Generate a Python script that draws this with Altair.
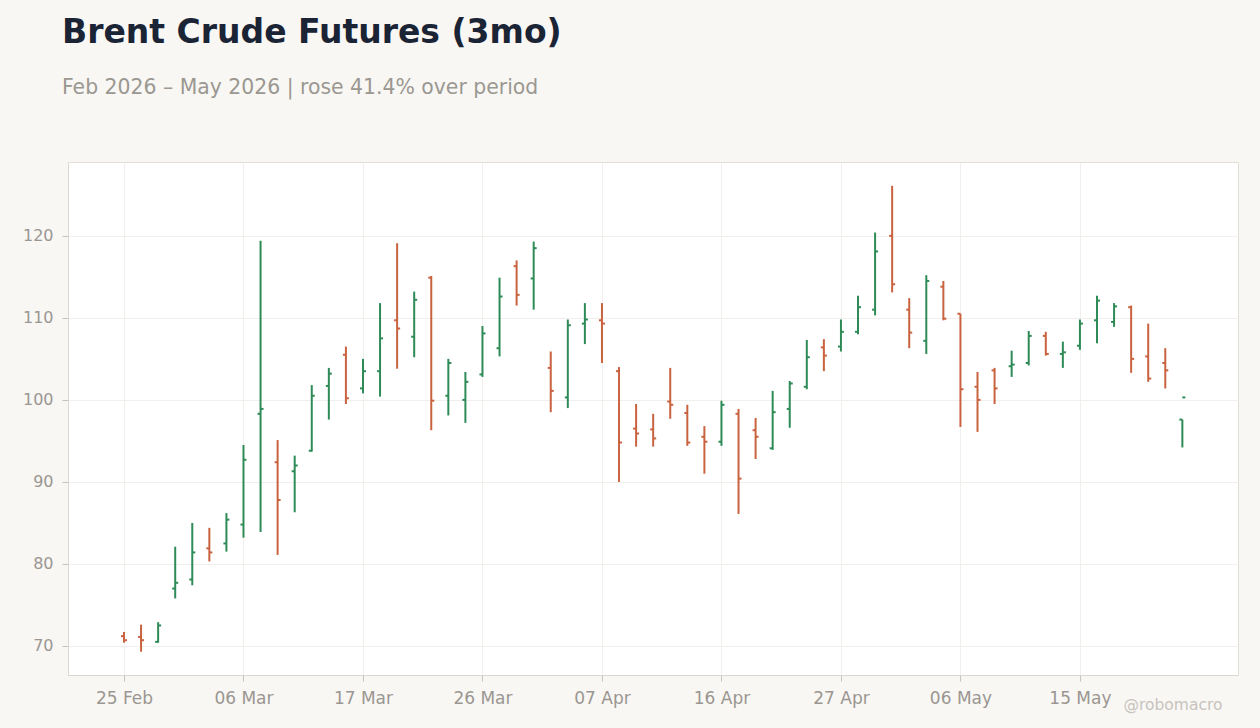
import altair as alt
import pandas as pd

# ---- data ----
dates = [
    "2026-02-25", "2026-02-26", "2026-02-27", "2026-03-02", "2026-03-03", "2026-03-04", "2026-03-05",
    "2026-03-06", "2026-03-09", "2026-03-10", "2026-03-11", "2026-03-12", "2026-03-13", "2026-03-16",
    "2026-03-17", "2026-03-18", "2026-03-19", "2026-03-20", "2026-03-23", "2026-03-24", "2026-03-25",
    "2026-03-26", "2026-03-27", "2026-03-30", "2026-03-31", "2026-04-01", "2026-04-02", "2026-04-06",
    "2026-04-07", "2026-04-08", "2026-04-09", "2026-04-10", "2026-04-13", "2026-04-14", "2026-04-15",
    "2026-04-16", "2026-04-17", "2026-04-20", "2026-04-21", "2026-04-22", "2026-04-23", "2026-04-24",
    "2026-04-27", "2026-04-28", "2026-04-29", "2026-04-30", "2026-05-01", "2026-05-04", "2026-05-05",
    "2026-05-06", "2026-05-07", "2026-05-08", "2026-05-11", "2026-05-12", "2026-05-13", "2026-05-14",
    "2026-05-15", "2026-05-18", "2026-05-19", "2026-05-20", "2026-05-21", "2026-05-22", "2026-05-26",
]
opens = [
    71.2, 71.1, 70.5, 77.0, 78.1, 81.9, 82.5, 84.8, 98.3, 92.4,
    91.3, 93.8, 101.7, 105.5, 101.4, 103.5, 109.7, 107.7, 114.9, 100.5,
    100.0, 103.1, 106.3, 116.3, 114.8, 103.9, 100.3, 109.3, 109.7, 103.5,
    96.5, 96.4, 99.8, 98.4, 95.5, 94.9, 98.3, 96.3, 94.1, 98.9,
    101.6, 106.4, 106.5, 108.3, 111.0, 120.0, 111.0, 107.2, 113.8, 110.5,
    101.6, 103.6, 104.1, 104.5, 107.8, 105.6, 106.6, 109.7, 109.5, 111.3,
    105.3, 104.5, 97.6,
]
highs = [
    71.7, 72.6, 72.9, 82.1, 85.0, 84.4, 86.2, 94.5, 119.4, 95.1,
    93.2, 101.8, 103.9, 106.5, 105.0, 111.8, 119.1, 113.2, 115.1, 105.0,
    103.4, 109.0, 114.9, 117.0, 119.3, 105.9, 109.8, 111.8, 111.8, 104.0,
    99.5, 98.3, 103.9, 99.4, 96.8, 99.9, 98.9, 97.8, 101.1, 102.3,
    107.3, 107.4, 109.8, 112.7, 120.4, 126.1, 112.4, 115.2, 114.5, 110.5,
    103.4, 103.9, 106.0, 108.4, 108.3, 107.1, 109.8, 112.7, 111.8, 111.5,
    109.3, 106.3, 97.6,
]
lows = [
    70.4, 69.3, 70.4, 75.8, 77.4, 80.3, 81.5, 83.2, 83.9, 81.1,
    86.3, 93.7, 97.6, 99.5, 100.8, 100.4, 103.8, 105.2, 96.3, 98.1,
    97.2, 102.8, 105.3, 111.5, 111.0, 98.5, 99.0, 106.8, 104.5, 90.0,
    94.3, 94.3, 97.7, 94.4, 91.0, 94.4, 86.1, 92.8, 93.9, 96.6,
    101.3, 103.5, 105.9, 108.0, 110.3, 113.1, 106.3, 105.6, 109.7, 96.7,
    96.1, 99.5, 102.8, 104.2, 105.4, 103.9, 106.1, 106.9, 108.9, 103.3,
    102.2, 101.4, 94.2,
]
closes = [
    70.7, 70.7, 72.5, 77.7, 81.4, 81.4, 85.4, 92.7, 98.9, 87.8,
    92.0, 100.5, 103.2, 100.2, 103.5, 107.5, 108.7, 112.2, 99.9, 104.5,
    102.2, 108.1, 112.6, 112.8, 118.5, 101.1, 109.1, 109.8, 109.3, 94.8,
    95.9, 95.3, 99.4, 94.8, 94.9, 99.4, 90.4, 95.5, 98.5, 102.0,
    105.2, 105.4, 108.3, 111.3, 118.1, 114.1, 108.2, 114.5, 109.9, 101.3,
    100.0, 101.4, 104.3, 107.8, 105.6, 105.8, 109.3, 112.1, 111.4, 105.0,
    102.6, 103.6, 100.3,
]
tick_idx = [0, 7, 14, 21, 28, 35, 42, 49, 56]
tick_labels = ["25 Feb", "06 Mar", "17 Mar", "26 Mar", "07 Apr", "16 Apr", "27 Apr", "06 May", "15 May"]
y_ticks = [70, 80, 90, 100, 110, 120]

GREEN = "#2e8b57"
RED = "#c9623f"

df = pd.DataFrame({
    "idx": list(range(len(dates))),
    "date": dates,
    "open": opens,
    "high": highs,
    "low": lows,
    "close": closes,
})
df["dir"] = ["up" if c >= o else "down" for o, c in zip(opens, closes)]

label_expr = (
    "[" + ",".join("'%s'" % s for s in tick_labels) + "][indexof(["
    + ",".join(str(i) for i in tick_idx) + "], datum.value)]"
)

x_enc = alt.X(
    "idx:Q",
    scale=alt.Scale(domain=[-3.28, 65.26], nice=False, zero=False),
    axis=alt.Axis(
        values=tick_idx,
        labelExpr=label_expr,
        title="@robomacro",
        titleAnchor="end",
        titleAlign="right",
        titleBaseline="alphabetic",
        titleX=1154,
        titleY=34,
        titleColor="#c8c3bd",
        titleFontSize=15.5,
        titleFontWeight="normal",
        titleFont="DejaVu Sans",
        labelFontSize=17,
        labelPadding=9,
        tickSize=6,
    ),
)
y_scale = alt.Scale(domain=[66.46, 129.0], nice=False, zero=False)
y_axis = alt.Axis(values=y_ticks, title=None, labelFontSize=16, labelPadding=9, tickSize=6)
color = alt.Color("dir:N", scale=alt.Scale(domain=["up", "down"], range=[GREEN, RED]), legend=None)

base = alt.Chart(df).encode(x=x_enc, color=color)

hl = base.mark_rule(strokeWidth=2).encode(
    y=alt.Y("low:Q", scale=y_scale, axis=y_axis),
    y2="high:Q",
)
op = base.mark_rule(strokeWidth=2, xOffset=-3, x2Offset=0).encode(
    x2=alt.X2("idx:Q"),
    y=alt.Y("open:Q", scale=y_scale),
)
cl = base.mark_rule(strokeWidth=2, xOffset=0, x2Offset=3).encode(
    x2=alt.X2("idx:Q"),
    y=alt.Y("close:Q", scale=y_scale),
)

chart = (
    alt.layer(hl, op, cl)
    .properties(
        width=1170,
        height=513,
        autosize=alt.AutoSizeParams(type="none"),
        padding={"left": 68, "top": 162, "right": 22, "bottom": 53},
        background="#f8f7f4",
        title=alt.TitleParams(
            text="Brent Crude Futures (3mo)",
            subtitle="Feb 2026 – May 2026 | rose 41.4% over period",
            anchor="start",
            frame="group",
            dx=-6,
            offset=64,
            font="DejaVu Sans",
            fontSize=33,
            fontWeight="bold",
            color="#1b2434",
            subtitleFont="DejaVu Sans",
            subtitleFontSize=20.4,
            subtitleColor="#9b9791",
            subtitlePadding=28,
        ),
    )
    .configure_view(fill="white", stroke="#e2ded8", strokeWidth=1)
    .configure_axis(
        labelFont="DejaVu Sans",
        labelColor="#9b9691",
        gridColor="#f1efec",
        gridWidth=1,
        tickColor="#c9c3bb",
        domainColor="#dcd7d0",
    )
)

chart.save("out.html", embed_options={"renderer": "svg", "actions": False})
